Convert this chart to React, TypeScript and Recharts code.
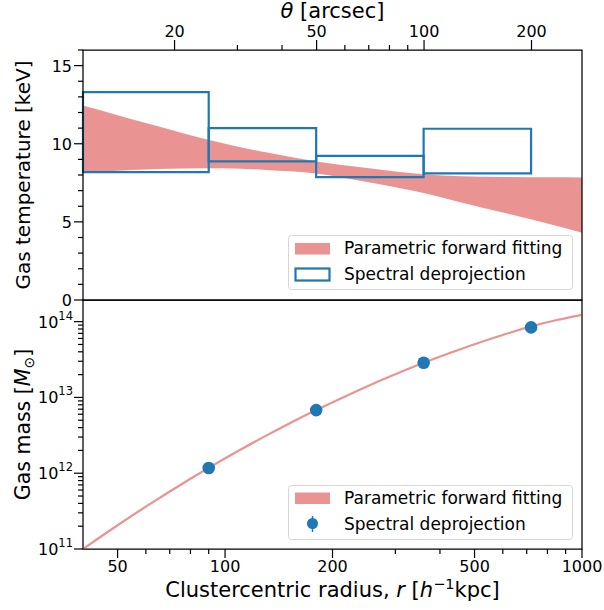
import React from 'react';
import { ComposedChart, Area, Line, Scatter, XAxis, YAxis, ReferenceArea, Legend } from 'recharts';

const FONT = "'DejaVu Sans', sans-serif";
const RED = '#d62728';
const BLUE = '#1f77b4';

// ---------------- data ----------------
const radiusTicksMajor = [50, 100, 200, 500, 1000];
const radiusTicksMinor = [60, 70, 80, 90, 300, 400, 600, 700, 800, 900];
const thetaTicksMajor = [20, 50, 100, 200];
const thetaTicksMinor = [30, 40, 60, 70, 80, 90];
const tempTicksMajor = [0, 5, 10, 15];
const tempTicksMinor = [1, 2, 3, 4, 6, 7, 8, 9, 11, 12, 13, 14, 16];
const massTicksMajor = [1e11, 1e12, 1e13, 1e14];
const massTicksMinor = [
  2e11, 3e11, 4e11, 5e11, 6e11, 7e11, 8e11, 9e11,
  2e12, 3e12, 4e12, 5e12, 6e12, 7e12, 8e12, 9e12,
  2e13, 3e13, 4e13, 5e13, 6e13, 7e13, 8e13, 9e13,
];

// parametric forward fitting: temperature band (keV)
const bandRadius = [40, 50, 60, 70, 85, 100, 130, 180, 250, 360, 456, 600, 800, 1000];
const bandTempLow = [8.18, 8.28, 8.35, 8.4, 8.44, 8.43, 8.32, 8.1, 7.55, 6.85, 6.26, 5.6, 4.9, 4.31];
const bandTempHigh = [12.45, 11.83, 11.33, 10.92, 10.38, 10.0, 9.45, 8.87, 8.45, 8.05, 7.92, 7.87, 7.85, 7.84];

// spectral deprojection: temperature bins
const binInner = [40, 90, 180, 360];
const binOuter = [90, 180, 360, 720];
const binTempLow = [8.18, 8.87, 7.86, 8.1];
const binTempHigh = [13.31, 11.0, 9.23, 10.96];

// parametric forward fitting: gas mass
const massRadius = [40, 50, 60, 70, 80, 90, 110, 130, 150, 180, 220, 260, 300, 360, 430, 500, 600, 720, 850, 1000];
const massFit = [
  1.0e11, 2.06e11, 3.62e11, 5.74e11, 8.45e11, 1.175e12, 2.02e12, 3.11e12, 4.43e12, 6.81e12,
  1.064e13, 1.52e13, 2.02e13, 2.86e13, 3.91e13, 5.04e13, 6.67e13, 8.65e13, 1.05e14, 1.23e14,
];

// spectral deprojection: gas mass points
const pointRadius = [90, 180, 360, 720];
const pointMass = [1.17e12, 6.8e12, 2.87e13, 8.4e13];

const R_DOMAIN: [number, number] = [40, 1000];
const T_DOMAIN: [number, number] = [0, 16];
const M_DOMAIN: [number, number] = [1e11, 1.93e14];
// angular scale of the cluster: arcsec per h^-1 kpc
const ARCSEC_PER_KPC = 0.277;
const thetaTickRadii = [...thetaTicksMajor, ...thetaTicksMinor].map((t) => t / ARCSEC_PER_KPC);

const bandRows = bandRadius.map((r, i) => ({ r, lo: bandTempLow[i], hi: bandTempHigh[i] }));
const massRows = massRadius.map((r, i) => ({ r, m: massFit[i] }));
const pointRows = pointRadius.map((r, i) => ({ r, m: pointMass[i] }));

// ---------------- ticks ----------------
const TICK_MAJOR = 9;
const TICK_MINOR = 5;
const TICK_W = 1.2;

const BottomTick = (props: any) => {
  const { x, y, payload } = props;
  const v = payload.value;
  const major = radiusTicksMajor.includes(v);
  return (
    <g>
      <line x1={x} x2={x} y1={y} y2={y + (major ? TICK_MAJOR : TICK_MINOR)} stroke="#000" strokeWidth={TICK_W} />
      {major && (
        <text x={x} y={y + 23} textAnchor="middle" fontSize={16} fontFamily={FONT} fill="#000">
          {v}
        </text>
      )}
    </g>
  );
};

const TopTick = (props: any) => {
  const { x, y, payload } = props;
  const theta = Math.round(payload.value * ARCSEC_PER_KPC);
  const major = thetaTicksMajor.includes(theta);
  return (
    <g>
      <line x1={x} x2={x} y1={y} y2={y - (major ? TICK_MAJOR + 1 : TICK_MINOR)} stroke="#000" strokeWidth={TICK_W} />
      {major && (
        <text x={x} y={y - 13} textAnchor="middle" fontSize={16} fontFamily={FONT} fill="#000">
          {theta}
        </text>
      )}
    </g>
  );
};

const TempTick = (props: any) => {
  const { x, y, payload } = props;
  const v = payload.value;
  const major = tempTicksMajor.includes(v);
  return (
    <g>
      <line x1={x} x2={x - (major ? TICK_MAJOR : TICK_MINOR)} y1={y} y2={y} stroke="#000" strokeWidth={TICK_W} />
      {major && (
        <text x={x - TICK_MAJOR - 2} y={y + 6} textAnchor="end" fontSize={16} fontFamily={FONT} fill="#000">
          {v}
        </text>
      )}
    </g>
  );
};

const MassTick = (props: any) => {
  const { x, y, payload } = props;
  const v = payload.value;
  const major = massTicksMajor.includes(v);
  const exp = Math.round(Math.log10(v));
  return (
    <g>
      <line x1={x} x2={x - (major ? TICK_MAJOR : TICK_MINOR)} y1={y} y2={y} stroke="#000" strokeWidth={TICK_W} />
      {major && (
        <text x={x - TICK_MAJOR - 1} y={y + 6} textAnchor="end" fontSize={16} fontFamily={FONT} fill="#000">
          <tspan>10</tspan>
          <tspan dy={-8} fontSize={11.5}>{exp}</tspan>
        </text>
      )}
    </g>
  );
};

// ---------------- legends ----------------
const LEGEND_FS = 17;

const TempLegend = () => (
  <svg width={286} height={56} style={{ display: 'block' }}>
    <rect x={0.5} y={0.5} width={284} height={54} rx={3} fill="#fff" fillOpacity={0.8} stroke="#d6d6d6" />
    <rect x={7} y={8} width={35} height={11.5} fill={RED} fillOpacity={0.5} />
    <text x={56} y={19} fontSize={LEGEND_FS} fontFamily={FONT} fill="#000">Parametric forward fitting</text>
    <rect x={7.5} y={33.5} width={34} height={12} fill="none" stroke={BLUE} strokeWidth={2.2} />
    <text x={56} y={44.5} fontSize={LEGEND_FS} fontFamily={FONT} fill="#000">Spectral deprojection</text>
  </svg>
);

const MassLegend = () => (
  <svg width={286} height={56} style={{ display: 'block' }}>
    <rect x={0.5} y={0.5} width={284} height={54} rx={3} fill="#fff" fillOpacity={0.8} stroke="#d6d6d6" />
    <rect x={7} y={7.5} width={35} height={11.5} fill={RED} fillOpacity={0.5} />
    <text x={56} y={19} fontSize={LEGEND_FS} fontFamily={FONT} fill="#000">Parametric forward fitting</text>
    <line x1={24.5} x2={24.5} y1={31} y2={47} stroke={BLUE} strokeWidth={1.5} />
    <circle cx={24.5} cy={38.5} r={5.5} fill={BLUE} />
    <text x={56} y={44.5} fontSize={LEGEND_FS} fontFamily={FONT} fill="#000">Spectral deprojection</text>
  </svg>
);

// ---------------- axis titles ----------------
const TempTitle = (props: any) => {
  const vb = props.viewBox || {};
  const cy = vb.y + vb.height / 2;
  return (
    <text x={30} y={cy} transform={`rotate(-90 30 ${cy})`} textAnchor="middle" fontSize={20} fontFamily={FONT} fill="#000">
      Gas temperature [keV]
    </text>
  );
};

const MassTitle = (props: any) => {
  const vb = props.viewBox || {};
  const cy = vb.y + vb.height / 2;
  return (
    <text x={30} y={cy} transform={`rotate(-90 30 ${cy})`} textAnchor="middle" fontSize={20.5} fontFamily={FONT} fill="#000">
      <tspan>Gas mass [</tspan>
      <tspan fontStyle="italic">M</tspan>
      <tspan dy={4} fontSize={14}>⊙</tspan>
      <tspan dy={-4}>]</tspan>
    </text>
  );
};

const RadiusTitle = (props: any) => {
  const vb = props.viewBox || {};
  const cx = vb.x + vb.width / 2;
  return (
    <text x={cx} y={597} textAnchor="middle" fontSize={21} fontFamily={FONT} fill="#000">
      <tspan>Clustercentric radius, </tspan>
      <tspan fontStyle="italic">r</tspan>
      <tspan> [</tspan>
      <tspan fontStyle="italic">h</tspan>
      <tspan dy={-8} fontSize={14.5}>−1</tspan>
      <tspan dy={8}>kpc]</tspan>
    </text>
  );
};

const ThetaTitle = (props: any) => {
  const vb = props.viewBox || {};
  const cx = vb.x + vb.width / 2;
  return (
    <text x={cx} y={18} textAnchor="middle" fontSize={21} fontFamily={FONT} fill="#000">
      <tspan fontStyle="italic">θ</tspan>
      <tspan> [arcsec]</tspan>
    </text>
  );
};

// ---------------- chart ----------------
export default function App() {
  return (
    <div style={{ position: 'absolute', left: 0, top: 0, width: 604, height: 610, background: '#fff', fontFamily: FONT }}>
      {/* Temperature panel */}
      <div style={{ position: 'absolute', left: 0, top: 0 }}>
        <ComposedChart width={604} height={610} margin={{ top: 20, right: 22, bottom: 310, left: 23 }}>
          <XAxis
            dataKey="r"
            orientation="top"
            type="number"
            scale="log"
            domain={R_DOMAIN}
            allowDataOverflow
            ticks={thetaTickRadii}
            interval={0}
            tickSize={0}
            tickMargin={0}
            tickLine={false}
            axisLine={false}
            height={30}
            tick={TopTick}
            label={{ content: ThetaTitle }}
          />
          <YAxis
            type="number"
            domain={T_DOMAIN}
            allowDataOverflow
            ticks={[...tempTicksMajor, ...tempTicksMinor]}
            interval={0}
            tickSize={0}
            tickMargin={0}
            tickLine={false}
            axisLine={false}
            width={60}
            tick={TempTick}
            label={{ content: TempTitle }}
          />
          <Area
            data={bandRows}
            dataKey={(d: any) => [d.lo, d.hi]}
            type="monotone"
            fill={RED}
            fillOpacity={0.5}
            stroke="none"
            isAnimationActive={false}
            legendType="none"
          />
          {binInner.map((r0, i) => (
            <ReferenceArea
              key={i}
              x1={r0}
              x2={binOuter[i]}
              y1={binTempLow[i]}
              y2={binTempHigh[i]}
              fill="none"
              fillOpacity={0}
              stroke={BLUE}
              strokeWidth={2.2}
              ifOverflow="visible"
            />
          ))}
          <ReferenceArea
            x1={R_DOMAIN[0]}
            x2={R_DOMAIN[1]}
            y1={T_DOMAIN[0]}
            y2={T_DOMAIN[1]}
            fill="none"
            fillOpacity={0}
            stroke="#000"
            strokeWidth={1.25}
            ifOverflow="visible"
          />
          <Legend
            layout="vertical"
            align="center"
            verticalAlign="middle"
            wrapperStyle={{ position: 'absolute', left: 288, top: 235, width: 286, height: 56 }}
            content={() => <TempLegend />}
          />
        </ComposedChart>
      </div>

      {/* Mass panel */}
      <div style={{ position: 'absolute', left: 0, top: 0 }}>
        <ComposedChart width={604} height={610} margin={{ top: 300, right: 22, bottom: 21, left: 23 }}>
          <XAxis
            dataKey="r"
            type="number"
            scale="log"
            domain={R_DOMAIN}
            allowDataOverflow
            ticks={[...radiusTicksMajor, ...radiusTicksMinor]}
            interval={0}
            tickSize={0}
            tickMargin={0}
            tickLine={false}
            axisLine={false}
            height={40}
            tick={BottomTick}
            label={{ content: RadiusTitle }}
          />
          <YAxis
            type="number"
            scale="log"
            domain={M_DOMAIN}
            allowDataOverflow
            ticks={[...massTicksMajor, ...massTicksMinor]}
            interval={0}
            tickSize={0}
            tickMargin={0}
            tickLine={false}
            axisLine={false}
            width={60}
            tick={MassTick}
            label={{ content: MassTitle }}
          />
          <Line
            data={massRows}
            dataKey="m"
            type="monotone"
            stroke={RED}
            strokeOpacity={0.5}
            strokeWidth={2.2}
            dot={false}
            isAnimationActive={false}
            legendType="none"
          />
          <Scatter
            data={pointRows}
            dataKey="m"
            fill={BLUE}
            isAnimationActive={false}
            shape={(p: any) => <circle cx={p.cx} cy={p.cy} r={6.3} fill={BLUE} />}
          />
          <ReferenceArea
            x1={R_DOMAIN[0]}
            x2={R_DOMAIN[1]}
            y1={M_DOMAIN[0]}
            y2={M_DOMAIN[1]}
            fill="none"
            fillOpacity={0}
            stroke="#000"
            strokeWidth={1.25}
            ifOverflow="visible"
          />
          <Legend
            layout="vertical"
            align="center"
            verticalAlign="middle"
            wrapperStyle={{ position: 'absolute', left: 288, top: 485, width: 286, height: 56 }}
            content={() => <MassLegend />}
          />
        </ComposedChart>
      </div>
    </div>
  );
}
